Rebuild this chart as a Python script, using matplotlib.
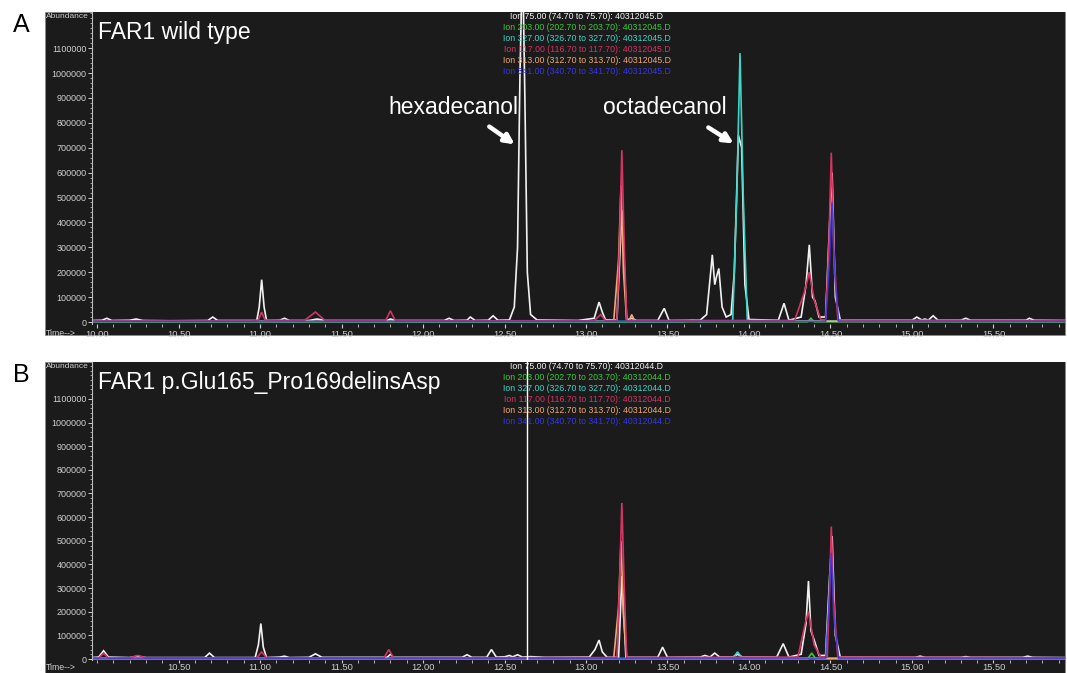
import matplotlib.pyplot as plt
from matplotlib.patches import Rectangle
from matplotlib.ticker import MultipleLocator, FormatStrFormatter

W, H = 1067, 673
plt.rcParams['font.family'] = ['Liberation Sans', 'DejaVu Sans']

# ---------------------------------------------------------------------------
# Panel A: FAR1 wild type (40312045.D) -- vertices
# ---------------------------------------------------------------------------
a_t_75 = [9.97, 10.03, 10.06, 10.09, 10.20, 10.24, 10.28, 10.45, 10.68, 10.71, 10.74,
          10.98, 10.995, 11.01, 11.025, 11.04, 11.12, 11.15, 11.18, 11.30, 11.35, 11.40,
          11.78, 11.80, 11.83, 12.13, 12.16, 12.19, 12.27, 12.29, 12.32, 12.40, 12.43,
          12.46, 12.53, 12.56, 12.58, 12.595, 12.605, 12.615, 12.625, 12.64, 12.66, 12.70,
          12.95, 13.05, 13.08, 13.10, 13.12, 13.19, 13.22, 13.25, 13.28, 13.31, 13.44,
          13.48, 13.51, 13.70, 13.74, 13.765, 13.775, 13.79, 13.80, 13.815, 13.835, 13.86,
          13.89, 13.91, 13.935, 13.955, 13.975, 14.00, 14.18, 14.215, 14.245, 14.32, 14.35,
          14.37, 14.39, 14.405, 14.43, 14.47, 14.495, 14.51, 14.53, 14.56, 15.00, 15.03,
          15.06, 15.08, 15.10, 15.13, 15.16, 15.30, 15.33, 15.36, 15.70, 15.72, 15.75, 15.94]
a_y_75 = [6000, 7000, 15000, 6000, 7000, 12000, 6000, 5000, 6000, 20000, 6000,
          6000, 60000, 170000, 60000, 6000, 7000, 15000, 6000, 6000, 12000, 6000,
          6000, 12000, 6000, 6000, 15000, 6000, 7000, 20000, 6000, 7000, 25000,
          7000, 8000, 60000, 300000, 1000000, 1300000, 1300000, 900000, 200000, 30000, 8000,
          6000, 15000, 80000, 40000, 8000, 8000, 450000, 8000, 15000, 6000, 6000,
          55000, 6000, 7000, 30000, 200000, 270000, 150000, 180000, 215000, 60000, 20000,
          30000, 200000, 750000, 700000, 150000, 10000, 7000, 75000, 7000, 20000, 150000,
          310000, 100000, 85000, 20000, 20000, 400000, 600000, 100000, 8000, 7000, 20000,
          8000, 12000, 7000, 25000, 7000, 7000, 15000, 7000, 7000, 15000, 7000, 6000]

a_t_117 = [9.97, 10.95, 10.99, 11.01, 11.03, 11.27, 11.34, 11.40, 11.77, 11.80, 11.83,
           13.05, 13.09, 13.12, 13.19, 13.205, 13.22, 13.235, 13.25, 14.28, 14.34, 14.37,
           14.40, 14.44, 14.47, 14.49, 14.505, 14.52, 14.545, 15.94]
a_y_117 = [4000, 4000, 8000, 40000, 8000, 5000, 40000, 5000, 5000, 45000, 5000,
           5000, 30000, 5000, 6000, 300000, 690000, 300000, 6000, 6000, 120000, 200000,
           90000, 10000, 8000, 300000, 680000, 300000, 8000, 5000]

a_t_313 = [9.97, 13.17, 13.20, 13.215, 13.23, 13.25, 13.265, 13.28, 13.30, 15.94]
a_y_313 = [3000, 3000, 250000, 550000, 200000, 4000, 4000, 30000, 3000, 3000]

a_t_327 = [9.97, 13.60, 13.65, 13.70, 13.90, 13.925, 13.945, 13.965, 13.99, 15.94]
a_y_327 = [2000, 2000, 8000, 2000, 4000, 500000, 1080000, 500000, 4000, 2000]

a_t_341 = [9.97, 14.47, 14.495, 14.51, 14.525, 14.55, 15.94]
a_y_341 = [2500, 2500, 250000, 480000, 200000, 2500, 2500]

a_t_203 = [9.97, 14.36, 14.38, 14.40, 15.94]
a_y_203 = [1000, 1000, 15000, 1000, 1000]

# ---------------------------------------------------------------------------
# Panel B: FAR1 p.Glu165_Pro169delinsAsp (40312044.D)
# ---------------------------------------------------------------------------
b_t_75 = [9.97, 10.01, 10.04, 10.07, 10.20, 10.25, 10.30, 10.66, 10.69, 10.72, 10.97,
          10.99, 11.005, 11.02, 11.04, 11.12, 11.15, 11.18, 11.30, 11.34, 11.38, 11.78,
          11.80, 11.82, 12.24, 12.27, 12.30, 12.39, 12.42, 12.45, 12.50, 12.53, 12.55,
          12.58, 12.61, 12.66, 12.75, 13.02, 13.055, 13.08, 13.10, 13.13, 13.20, 13.22,
          13.245, 13.44, 13.47, 13.50, 13.70, 13.73, 13.76, 13.79, 13.82, 13.90, 13.93,
          13.96, 14.17, 14.21, 14.245, 14.32, 14.35, 14.365, 14.38, 14.40, 14.43, 14.47,
          14.495, 14.51, 14.53, 14.56, 15.02, 15.05, 15.08, 15.30, 15.33, 15.36, 15.68,
          15.71, 15.74, 15.94]
b_y_75 = [6000, 8000, 35000, 8000, 6000, 12000, 6000, 6000, 25000, 6000, 6000,
          60000, 150000, 50000, 6000, 8000, 12000, 6000, 7000, 22000, 7000, 7000,
          20000, 7000, 7000, 18000, 7000, 7000, 40000, 8000, 9000, 15000, 9000,
          18000, 8000, 10000, 7000, 8000, 40000, 80000, 30000, 7000, 7000, 350000,
          7000, 7000, 50000, 7000, 8000, 15000, 8000, 25000, 8000, 8000, 20000,
          8000, 8000, 65000, 8000, 20000, 150000, 330000, 120000, 80000, 15000, 15000,
          350000, 520000, 100000, 8000, 7000, 12000, 7000, 7000, 10000, 7000, 7000,
          12000, 7000, 6000]

b_t_117 = [9.97, 10.01, 10.04, 10.07, 10.20, 10.25, 10.30, 10.98, 11.01, 11.04, 11.76,
           11.79, 11.82, 13.19, 13.205, 13.22, 13.235, 13.25, 14.30, 14.345, 14.365, 14.40,
           14.44, 14.48, 14.495, 14.505, 14.52, 14.545, 15.94]
b_y_117 = [4000, 4000, 25000, 4000, 5000, 15000, 5000, 5000, 30000, 5000, 5000,
           40000, 5000, 6000, 300000, 660000, 300000, 6000, 8000, 150000, 200000, 60000,
           8000, 8000, 300000, 560000, 250000, 8000, 5000]

b_t_313 = [9.97, 13.17, 13.20, 13.215, 13.23, 13.25, 15.94]
b_y_313 = [3000, 3000, 220000, 500000, 180000, 3000, 3000]

b_t_327 = [9.97, 13.90, 13.93, 13.96, 15.94]
b_y_327 = [2000, 2000, 30000, 2000, 2000]

b_t_341 = [9.97, 14.47, 14.49, 14.505, 14.52, 14.55, 15.94]
b_y_341 = [2500, 2500, 230000, 450000, 180000, 2500, 2500]

b_t_203 = [9.97, 14.36, 14.385, 14.41, 15.94]
b_y_203 = [1000, 1000, 25000, 1000, 1000]

cursor_b = 12.64

ion_labels_a = ['Ion 75.00 (74.70 to 75.70): 40312045.D',
                'Ion 203.00 (202.70 to 203.70): 40312045.D',
                'Ion 327.00 (326.70 to 327.70): 40312045.D',
                'Ion 117.00 (116.70 to 117.70): 40312045.D',
                'Ion 313.00 (312.70 to 313.70): 40312045.D',
                'Ion 341.00 (340.70 to 341.70): 40312045.D']
ion_labels_b = [s.replace('40312045', '40312044') for s in ion_labels_a]

# colours of the ion traces (same order as the legend lines)
c75, c203, c327, c117, c313, c341 = '#f2f2f2', '#3cc83c', '#3fd6c8', '#d33462', '#f0a878', '#3535e8'
ion_colors = [c75, c203, c327, c117, c313, c341]
bg = '#1b1b1b'
txtc = '#cfcfcf'


def fx(x):
    return x / W


def fy(y):
    return 1 - y / H


fig = plt.figure(figsize=(W / 100, H / 100), dpi=100)
fig.patch.set_facecolor('white')

# panel geometry in pixels: frame top/bottom, axes bottom, ylim
panels = [
    dict(top=12, bot=335, axbot=324, ylim=(-8000, 1245000), title='FAR1 wild type',
         letter='A', labels=ion_labels_a, xt0=10.0, tlen=3, tpad=1.5,
         traces=[(a_t_75, a_y_75, c75), (a_t_203, a_y_203, c203), (a_t_327, a_y_327, c327),
                 (a_t_313, a_y_313, c313), (a_t_117, a_y_117, c117), (a_t_341, a_y_341, c341)]),
    dict(top=362, bot=673, axbot=660, ylim=(-4200, 1256000),
         title='FAR1 p.Glu165_Pro169delinsAsp', letter='B', labels=ion_labels_b, xt0=10.5,
         tlen=2, tpad=0.3,
         traces=[(b_t_75, b_y_75, c75), (b_t_203, b_y_203, c203), (b_t_327, b_y_327, c327),
                 (b_t_313, b_y_313, c313), (b_t_117, b_y_117, c117), (b_t_341, b_y_341, c341)]),
]

axes = []
for p in panels:
    # dark instrument-screen background, kept behind the axes
    fig.patches.append(Rectangle((fx(45), fy(p['bot'])), fx(1020), (p['bot'] - p['top']) / H,
                                 transform=fig.transFigure, facecolor=bg,
                                 edgecolor='#8a8a8a', lw=0.6, zorder=-5))
    ax = fig.add_axes([fx(92), fy(p['axbot']), fx(1065 - 92), (p['axbot'] - p['top']) / H])
    ax.set_facecolor(bg)
    for t, y, c in p['traces']:
        # the blue trace is a touch transparent so the baseline reads purple
        ax.plot(t, y, color=c, lw=1.2, solid_joinstyle='miter',
                alpha=0.8 if c == c341 else 1.0)
    ax.set_xlim(9.969, 15.939)
    ax.set_ylim(*p['ylim'])
    for s in ['top', 'right', 'bottom']:
        ax.spines[s].set_visible(False)
    ax.spines['left'].set_color('#bdbdbd')
    ax.spines['left'].set_linewidth(0.8)
    ax.set_yticks(range(0, 1100001, 100000))
    ax.yaxis.set_major_formatter(FormatStrFormatter('%d'))
    ax.yaxis.set_minor_locator(MultipleLocator(20000))
    ax.set_xticks([v / 10 for v in range(int(p['xt0'] * 10), 156, 5)])
    ax.xaxis.set_major_formatter(FormatStrFormatter('%.2f'))
    ax.xaxis.set_minor_locator(MultipleLocator(0.1))
    ax.tick_params(axis='y', which='major', length=3, width=0.7, pad=1, colors=txtc, labelsize=6.5)
    ax.tick_params(axis='y', which='minor', length=1.5, width=0.5, color=txtc)
    ax.tick_params(axis='x', which='major', length=p['tlen'], width=0.8, pad=p['tpad'],
                   colors=txtc, labelsize=6.7)
    ax.tick_params(axis='x', which='minor', length=2, width=0.6, color=txtc)
    axes.append(ax)

    fig.text(fx(46), fy(p['top'] + 5), 'Abundance', color=txtc, fontsize=6, ha='left', va='center')
    fig.text(fx(46), fy(p['bot'] - 2 if p['letter'] == 'A' else p['bot'] - 5), 'Time-->',
             color=txtc, fontsize=6.3, ha='left', va='center')
    fig.text(fx(98), fy(p['top'] + 21), p['title'], color='white', fontsize=16.5,
             ha='left', va='center')
    fig.text(fx(21), fy(p['top'] + 13), p['letter'], color='black', fontsize=18,
             ha='center', va='center')
    for i, (lab, c) in enumerate(zip(p['labels'], ion_colors)):
        fig.text(fx(587), fy(p['top'] + 4.5 + 11 * i), lab, color=c, fontsize=6.3,
                 ha='center', va='center')

axA, axB = axes
axB.axvline(cursor_b, color='white', lw=1.0)

# peak annotations
fig.text(fx(388), fy(107), 'hexadecanol', color='white', fontsize=16.5, ha='left', va='center')
fig.text(fx(603), fy(107), 'octadecanol', color='white', fontsize=16.5, ha='left', va='center')
arrows = [((487, 125), (517, 146)), ((706, 126), (736, 145)),
          ((487, 629), (518, 650)), ((706, 630), (735, 650))]
for (x1, y1), (x2, y2) in arrows:
    axA.annotate('', xy=(x2, H - y2), xytext=(x1, H - y1), xycoords='figure pixels',
                 textcoords='figure pixels', annotation_clip=False,
                 arrowprops=dict(arrowstyle='-|>', color='white', lw=3.2, mutation_scale=14))

fig.savefig('out.png', dpi=100)
